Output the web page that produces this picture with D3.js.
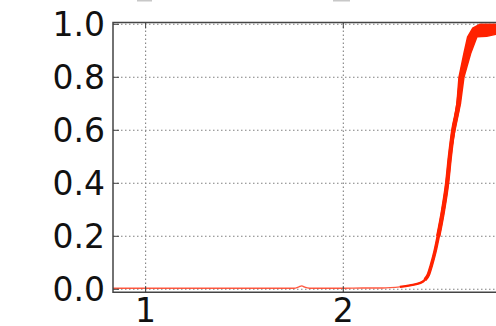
<!DOCTYPE html>
<html>
<head>
<meta charset="utf-8">
<script src="https://cdn.jsdelivr.net/npm/d3@7"></script>
<style>
    body{margin:0;background:#fff;}
    svg{display:block;}
</style>
</head>
<body>
<svg id="fig" width="496" height="326"></svg>
<script>
// curve (x, value)
const curveX = [0.835, 1.0, 1.2, 1.4, 1.6, 1.75, 1.775, 1.79, 1.805, 1.83, 2.0, 2.1, 2.2, 2.236, 2.286, 2.337, 2.39, 2.413, 2.43, 2.445, 2.463, 2.48, 2.505, 2.525, 2.539, 2.556, 2.582, 2.597, 2.625, 2.65, 2.69, 2.73, 2.772];
const curveY = [0.004, 0.004, 0.004, 0.004, 0.004, 0.004, 0.009, 0.013, 0.008, 0.004, 0.004, 0.005, 0.005, 0.006, 0.009, 0.015, 0.024, 0.036, 0.055, 0.09, 0.14, 0.20, 0.30, 0.40, 0.50, 0.60, 0.70, 0.80, 0.89, 0.953, 0.98, 0.983, 0.98];

// noisy band near the top (upper/left edge and lower/right edge)
const bandHiX = [2.539, 2.553, 2.575, 2.585, 2.610, 2.629, 2.654, 2.690, 2.771];
const bandHiY = [0.50, 0.60, 0.703, 0.80, 0.89, 0.953, 0.985, 1.0, 1.0];
const bandLoX = [2.539, 2.5645, 2.593, 2.610, 2.644, 2.676, 2.725, 2.771];
const bandLoY = [0.50, 0.60, 0.703, 0.80, 0.89, 0.953, 0.955, 0.962];

const xTicks = [1, 2];
const yTicks = [0.0, 0.2, 0.4, 0.6, 0.8, 1.0];

const red = "#ff2200";

function draw(){
    const svg = d3.select("#fig");
    svg.selectAll("*").remove();

    const xScale = d3.scaleLinear().domain([0.835, 3.0]).range([113, 113 + 2.165 * 197.7]);
    const yScale = d3.scaleLinear().domain([0, 1]).range([289.3, 24.3]);
    const yMin = -0.011, yMax = 1.007;

    const top = yScale(yMax), bottom = yScale(yMin), left = xScale.range()[0], right = xScale.range()[1];

    // bits of text from the panel above, cut off
    svg.append("rect").attr("x", 137).attr("y", 0).attr("width", 15).attr("height", 1.5).attr("fill", "#c8c8c8");
    svg.append("rect").attr("x", 333).attr("y", 0).attr("width", 17).attr("height", 1.5).attr("fill", "#c8c8c8");

    // grid
    const grid = svg.append("g").attr("stroke", "#808080").attr("stroke-width", 1.1).attr("stroke-dasharray", "1.5,2.5");
    grid.selectAll(".gy").data(yTicks).join("line")
        .attr("x1", left).attr("x2", right)
        .attr("y1", d => yScale(d)).attr("y2", d => yScale(d));
    grid.selectAll(".gx").data(xTicks).join("line")
        .attr("y1", top).attr("y2", bottom)
        .attr("x1", d => xScale(d)).attr("x2", d => xScale(d));

    const pts = curveX.map((x, i) => ({x, y: curveY[i]}));
    const line = d3.line().x(d => xScale(d.x)).y(d => yScale(d.y));
    const smooth = d3.line().x(d => xScale(d.x)).y(d => yScale(d.y)).curve(d3.curveMonotoneX);

    // line gets thicker as it rises (noise)
    svg.append("path").datum(pts)
        .attr("d", smooth).attr("fill", "none")
        .attr("stroke", red).attr("stroke-width", 1.3).attr("stroke-opacity", 0.75);
    svg.append("path").datum(pts.filter(d => d.x >= 2.286))
        .attr("d", smooth).attr("fill", "none")
        .attr("stroke", red).attr("stroke-width", 2.4).attr("stroke-linejoin", "round");
    svg.append("path").datum(pts.filter(d => d.x >= 2.413))
        .attr("d", smooth).attr("fill", "none")
        .attr("stroke", red).attr("stroke-width", 3.6).attr("stroke-linejoin", "round");
    svg.append("path").datum(pts.filter(d => d.x >= 2.48))
        .attr("d", smooth).attr("fill", "none")
        .attr("stroke", red).attr("stroke-width", 4.4).attr("stroke-linejoin", "round");

    const band = bandHiX.map((x, i) => ({x, y: bandHiY[i]}))
        .concat(bandLoX.map((x, i) => ({x, y: bandLoY[i]})).reverse());
    svg.append("path").datum(band)
        .attr("d", d => line(d) + "Z")
        .attr("fill", red).attr("stroke", red).attr("stroke-width", 1.5).attr("stroke-linejoin", "round");

    // spines
    const spine = svg.append("g").attr("stroke", "#444").attr("stroke-width", 1.5).attr("fill", "none");
    spine.append("path").attr("d", `M${right},${top}H${left}V${bottom}H${right}`);

    // inward ticks
    const tk = svg.append("g").attr("stroke", "#444").attr("stroke-width", 1);
    yTicks.forEach(v => {
        tk.append("line").attr("x1", left).attr("x2", left + 6).attr("y1", yScale(v)).attr("y2", yScale(v));
    });
    xTicks.forEach(v => {
        tk.append("line").attr("x1", xScale(v)).attr("x2", xScale(v)).attr("y1", top).attr("y2", top + 6);
        tk.append("line").attr("x1", xScale(v)).attr("x2", xScale(v)).attr("y1", bottom).attr("y2", bottom - 6);
    });

    // tick labels
    const font = "DejaVu Sans";
    svg.append("g").selectAll("text").data(yTicks).join("text")
        .attr("x", left - 8).attr("y", d => yScale(d))
        .attr("dy", "0.36em")
        .attr("text-anchor", "end")
        .attr("font-family", font).attr("font-size", 33).attr("fill", "#111")
        .text(d => d3.format(".1f")(d));
    svg.append("g").selectAll("text").data(xTicks).join("text")
        .attr("x", d => xScale(d)).attr("y", bottom + 30)
        .attr("text-anchor", "middle")
        .attr("font-family", font).attr("font-size", 33).attr("fill", "#111")
        .text(d => d);
}

draw();
</script>
</body>
</html>
